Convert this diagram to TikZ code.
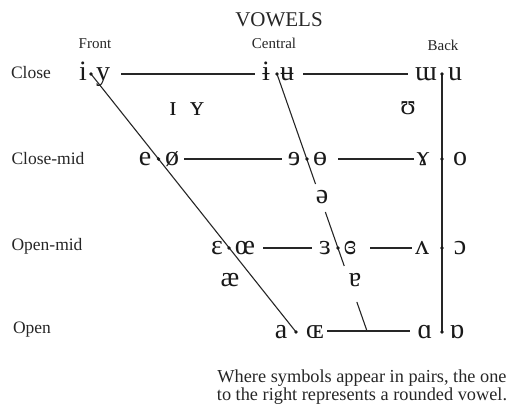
\documentclass[tikz,border=0pt]{standalone}
\usepackage{fontspec}
\setmainfont{Liberation Serif}
\newfontfamily\ipafont{Liberation Serif}
\usetikzlibrary{calc}
\begin{document}
\begin{tikzpicture}[x=1pt,y=-1pt,
  vw/.style={inner sep=0pt, anchor=base, yshift=-6.5pt, text=black!90, font=\ipafont\fontsize{28}{30}\selectfont},
  rowlab/.style={inner sep=0pt, text=black!85, font=\fontsize{17.5}{19}\selectfont},
  collab/.style={inner sep=0pt, text=black!85, font=\fontsize{15}{16}\selectfont},
  ln/.style={line width=1.1pt, draw=black!85},
  vdot/.style={fill=black!90, draw=none}]
\useasboundingbox (0,0) rectangle (510,404);

% title and labels
\node[inner sep=0pt, text=black!85, font=\fontsize{21}{22}\selectfont] (title) at (279,20) {VOWELS};
\node[collab] (front) at (95,44) {Front};
\node[collab] (central) at (274,43) {Central};
\node[collab] (back) at (443,45) {Back};
\node[rowlab] (lclose) at (31,73) {Close};
\node[rowlab] (lclosemid) at (48,159) {Close-mid};
\node[rowlab] (lopenmid) at (47,246) {Open-mid};
\node[rowlab] (lopen) at (32,330) {Open};

% dots
\coordinate (f1) at (91,74);
\coordinate (f2) at (158.5,159);
\coordinate (f3) at (229,248);
\coordinate (f4) at (296,332);
\coordinate (c1) at (277,74);
\coordinate (c2) at (307,159);
\coordinate (c3) at (338,248);
\coordinate (c4) at (367,331);
\coordinate (b1) at (442,74);
\coordinate (b2) at (442,159);
\coordinate (b3) at (442,248);
\coordinate (b4) at (442,332);

% close
\node[vw] (vi) at (83,74) {i};
\node[vw] (vy) at (103,74) {y};
\node[vw] (vbi) at (266,74) {ɨ};
\node[vw] (vbu) at (287,74) {ʉ};
\node[vw] (vmw) at (426,74) {ɯ};
\node[vw] (vu) at (455,74) {u};
% near-close
\node[vw] (vsi) at (173,108.5) {ɪ};
\node[vw] (vsy) at (197,108.5) {ʏ};
\node[vw] (vup) at (408,108) {ʊ};
% close-mid
\node[vw] (ve) at (145,159) {e};
\node[vw] (voe) at (172,159) {ø};
\node[vw] (vre) at (294,159) {ɘ};
\node[vw] (vbo) at (320,159) {ɵ};
\node[vw] (vgam) at (423,159) {ɤ};
\node[vw] (vo) at (460,159) {o};
% mid
\node[vw] (vschwa) at (322,197) {ə};
% open-mid
\node[vw] (veps) at (217,248) {ɛ};
\node[vw] (voel) at (245,248) {œ};
\node[vw] (vreps) at (325,248) {ɜ};
\node[vw] (vcreps) at (350,248) {ɞ};
\node[vw] (vwedge) at (422,248) {ʌ};
\node[vw] (vopeno) at (460,248) {ɔ};
% near-open
\node[vw] (vae) at (230,280) {æ};
\node[vw] (vtura) at (355,280) {ɐ};
% open
\node[vw] (va) at (281,332) {a};
\node[vw] (voeb) at (315,332) {ɶ};
\node[vw] (valpha) at (425,332) {ɑ};
\node[vw] (vtalpha) at (457,332) {ɒ};

% horizontal lines
\draw[ln] ($(vy.east|-f1)+(11,0)$) -- ($(vbi.west|-f1)+(-7,0)$);
\draw[ln] ($(vbu.east|-c1)+(9,0)$) -- ($(vmw.west|-c1)+(-7,0)$);
\draw[ln] ($(voe.east|-f2)+(5,0)$) -- ($(vre.west|-f2)+(-6,0)$);
\draw[ln] ($(vbo.east|-c2)+(11,0)$) -- ($(vgam.west|-c2)+(-3,0)$);
\draw[ln] ($(voel.east|-f3)+(8,0)$) -- ($(vreps.west|-f3)+(-7,0)$);
\draw[ln] ($(vcreps.east|-c3)+(14,0)$) -- ($(vwedge.west|-c3)+(-3,0)$);
\draw[ln] ($(voeb.east|-c4)+(3,0)$) -- ($(valpha.west|-c4)+(-7,0)$);

% front diagonal, central line, back vertical
\draw[ln] (f1) -- (f4);
\draw[ln] (c1) -- ($(c1)!0.428!(c4)$);
\draw[ln] ($(c1)!0.537!(c4)$) -- ($(c1)!0.747!(c4)$);
\draw[ln] ($(c1)!0.887!(c4)$) -- (c4);
\draw[ln] (b1) -- (b4);

% dots
\foreach \p in {f1,f2,f3,f4,c1,c2,c3,b1,b2,b3,b4}
  \fill[vdot] (\p) circle (1.8pt);

% footnote
\node[inner sep=0pt, align=center, text=black!85, font=\fontsize{18.3}{18.5}\selectfont] (note) at (362,387)
  {Where symbols appear in pairs, the one\\to the right represents a rounded vowel.};
\end{tikzpicture}
\end{document}
